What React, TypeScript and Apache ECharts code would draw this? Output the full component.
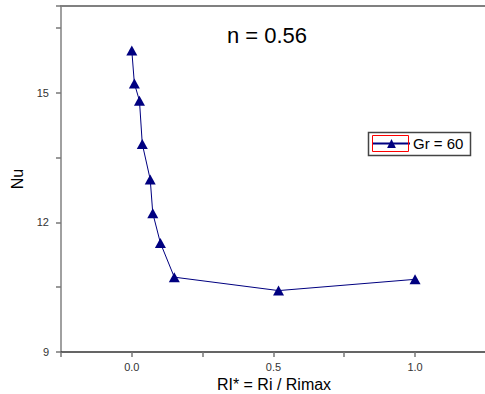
import React, { useEffect, useRef } from "react";
import * as echarts from "echarts";

const xValues = [0.0, 0.009, 0.027, 0.037, 0.065, 0.074, 0.101, 0.15, 0.518, 1.0];
const nuValues = [15.97, 15.21, 14.81, 13.81, 12.99, 12.21, 11.52, 10.73, 10.42, 10.68];
const seriesName = "Gr = 60";
const titleText = "n = 0.56";
const xAxisName = "RI* = Ri / Rimax";
const yAxisName = "Nu";

export default function App() {
  const ref = useRef<HTMLDivElement>(null);
  useEffect(() => {
    if (!ref.current) return;
    const chart = echarts.init(ref.current, undefined, { renderer: "svg" });
    const font = "Liberation Sans, Arial, sans-serif";
    chart.setOption({
      animation: false,
      backgroundColor: "#ffffff",
      grid: { left: 61, top: 6, width: 426, height: 346, containLabel: false, outerBoundsMode: "none" },
      title: {
        text: titleText,
        left: 262,
        top: 19,
        textAlign: "center",
        textStyle: { fontFamily: font, fontSize: 22, fontWeight: "normal", color: "#000" },
      },
      legend: {
        data: [seriesName],
        left: 372,
        top: 136,
        itemWidth: 37,
        itemHeight: 11,
        itemGap: 0,
        padding: 0,
        textStyle: { fontFamily: font, fontSize: 15, color: "#000", padding: [0, 0, 0, -2] },
      },
      xAxis: [
        {
          type: "value",
          min: -0.25,
          max: 1.254,
          interval: 0.25,
          name: xAxisName,
          nameLocation: "middle",
          nameGap: 21,
          nameTextStyle: { fontFamily: font, fontSize: 16, color: "#000" },
          axisLine: { show: true, onZero: false, lineStyle: { color: "#333", width: 1.5 } },
          axisTick: { show: true, length: 5, lineStyle: { color: "#777", width: 1.5 } },
          axisLabel: {
            fontFamily: font,
            fontSize: 11,
            color: "#333",
            margin: 9,
            formatter: (v: number) => (Math.abs((v * 2) - Math.round(v * 2)) < 1e-9 && v >= 0 ? v.toFixed(1) : ""),
          },
          splitLine: { show: false },
        },
        {
          type: "value",
          position: "top",
          min: -0.25,
          max: 1.254,
          axisLine: { show: true, onZero: false, lineStyle: { color: "#808080", width: 2 } },
          axisTick: { show: false },
          axisLabel: { show: false },
          splitLine: { show: false },
        },
      ],
      yAxis: {
        type: "value",
        min: 9,
        max: 17,
        interval: 1.5,
        name: yAxisName,
        nameLocation: "middle",
        nameGap: 33,
        nameTextStyle: { fontFamily: font, fontSize: 16, color: "#000" },
        axisLine: { show: true, onZero: false, lineStyle: { color: "#808080", width: 1.5 } },
        axisTick: { show: true, length: 5, lineStyle: { color: "#777", width: 1.5 } },
        axisLabel: {
          fontFamily: font,
          fontSize: 11,
          color: "#333",
          margin: 12,
          formatter: (v: number) => (Math.abs(v % 3) < 1e-9 ? String(v) : ""),
        },
        splitLine: { show: false },
      },
      series: [
        {
          name: seriesName,
          type: "line",
          data: xValues.map((x, i) => [x, nuValues[i]]),
          symbol: "triangle",
          symbolSize: [11, 10],
          itemStyle: { color: "#000080" },
          lineStyle: { color: "#000080", width: 1 },
        },
      ],
      graphic: [
        {
          type: "rect",
          shape: { x: 368.5, y: 132.5, width: 102, height: 23 },
          style: { fill: "none", stroke: "#444", lineWidth: 1.5 },
          z: 100,
        },
        {
          type: "rect",
          shape: { x: 372.5, y: 135.5, width: 36, height: 16 },
          style: { fill: "none", stroke: "#ff0000", lineWidth: 1 },
          z: 100,
        },
      ],
    });
    return () => chart.dispose();
  }, []);
  return (
    <div
      ref={ref}
      style={{ position: "absolute", left: 0, top: 0, width: 485, height: 394 }}
    />
  );
}
